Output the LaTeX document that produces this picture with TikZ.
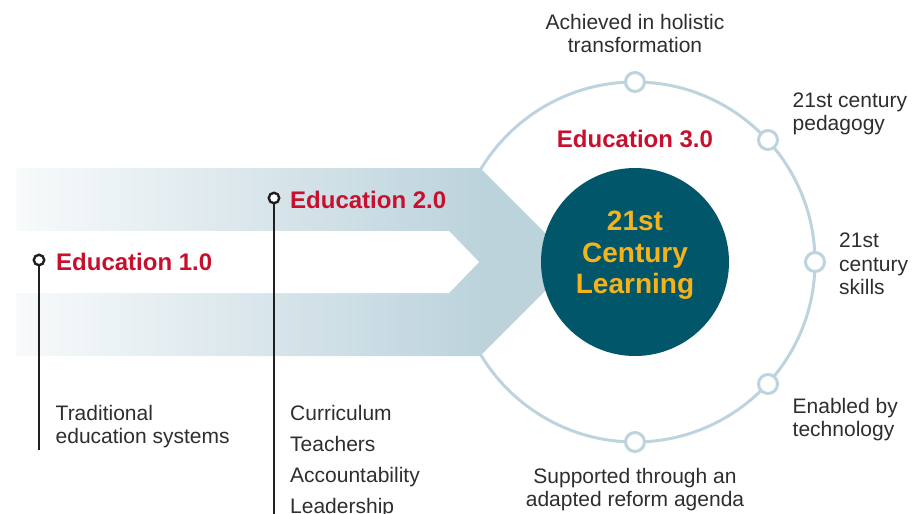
\documentclass[tikz,border=0pt]{standalone}
\usepackage{fontspec}
\setmainfont{Liberation Sans}
\usetikzlibrary{calc}
\definecolor{ringc}{HTML}{BDD4DE}
\definecolor{bandL}{HTML}{F8FAFB}
\definecolor{bandR}{HTML}{BCD3DC}
\definecolor{tealc}{HTML}{02566A}
\definecolor{goldc}{HTML}{F5B21B}
\definecolor{crimc}{HTML}{C8102E}
\definecolor{txtc}{HTML}{2E2E2E}
\definecolor{darkc}{HTML}{231F20}
\pgfdeclarehorizontalshading{bandshade}{100bp}{color(0bp)=(bandL); color(25bp)=(bandL); color(67bp)=(bandR); color(100bp)=(bandR)}
\tikzset{
  lbl/.style={font=\fontsize{21}{23.5}\selectfont, text=txtc, inner sep=0pt},
  listlbl/.style={font=\fontsize{21}{31}\selectfont, text=txtc, inner sep=0pt},
  edu/.style={font=\bfseries\fontsize{24}{28}\selectfont, text=crimc, inner sep=0pt},
  rdot/.style={circle, draw=ringc, line width=3pt, fill=white, minimum size=19pt, inner sep=0pt},
  bdot/.style={circle, draw=darkc, line width=2.4pt, fill=white, minimum size=10.5pt, inner sep=0pt},
  stem/.style={draw=darkc, line width=2.8pt},
  ringline/.style={draw=ringc, line width=3pt},
}
\begin{document}
\begin{tikzpicture}[x=1pt,y=-1pt]
\useasboundingbox (0,0) rectangle (913,514);
% ring
\draw[ringline] (635,262) circle[radius=180pt];
\node[rdot] (r1) at (635,82) {};
\node[rdot] (r2) at (768,140) {};
\node[rdot] (r3) at (815,262) {};
\node[rdot] (r4) at (768,384) {};
\node[rdot] (r5) at (635,442) {};
% band
\shade[shading=bandshade] (16,168) -- (480,168) -- (574,262) -- (480,356) -- (16,356) -- cycle;
\fill[white] (16,231) -- (449,231) -- (479,262) -- (449,293) -- (16,293) -- cycle;
% core
\node[circle, fill=tealc, minimum size=188pt, inner sep=0pt] (core) at (635,262) {};
\node[font=\bfseries\fontsize{28}{31.5}\selectfont, text=goldc, align=center, inner sep=0pt, anchor=north] (corelbl) at (635,211) {21st\\Century\\Learning};
\node[edu, anchor=center] (e3) at (635,139) {Education 3.0};
% education 1.0 and 2.0
\node[bdot] (d1) at (39,260) {};
\coordinate (d1end) at (39,450);
\draw[stem] (d1) -- (d1end);
\node[edu, anchor=west] (e1) at (56,262) {Education 1.0};
\node[bdot] (d2) at (274,198) {};
\coordinate (d2end) at (274,514);
\draw[stem] (d2) -- (d2end);
\node[edu, anchor=west] (e2) at (290,200) {Education 2.0};
\node[lbl, align=left, anchor=north west] (t1) at (55.5,405) {Traditional\\education systems};
\node[listlbl, align=left, anchor=north west] (t2) at (290,405) {Curriculum\\Teachers\\Accountability\\Leadership};
% ring labels
\node[lbl, align=center, anchor=north] (l1) at (635,14) {Achieved in holistic\\transformation};
\node[lbl, align=left, anchor=north west] (l2) at (792.5,92.5) {21st century\\pedagogy};
\node[lbl, align=left, anchor=north west] (l3) at (839,233) {21st\\century\\skills};
\node[lbl, align=left, anchor=north west] (l4) at (792.5,398) {Enabled by\\technology};
\node[lbl, align=center, anchor=north] (l5) at (635,468) {Supported through an\\adapted reform agenda};
\end{tikzpicture}
\end{document}
